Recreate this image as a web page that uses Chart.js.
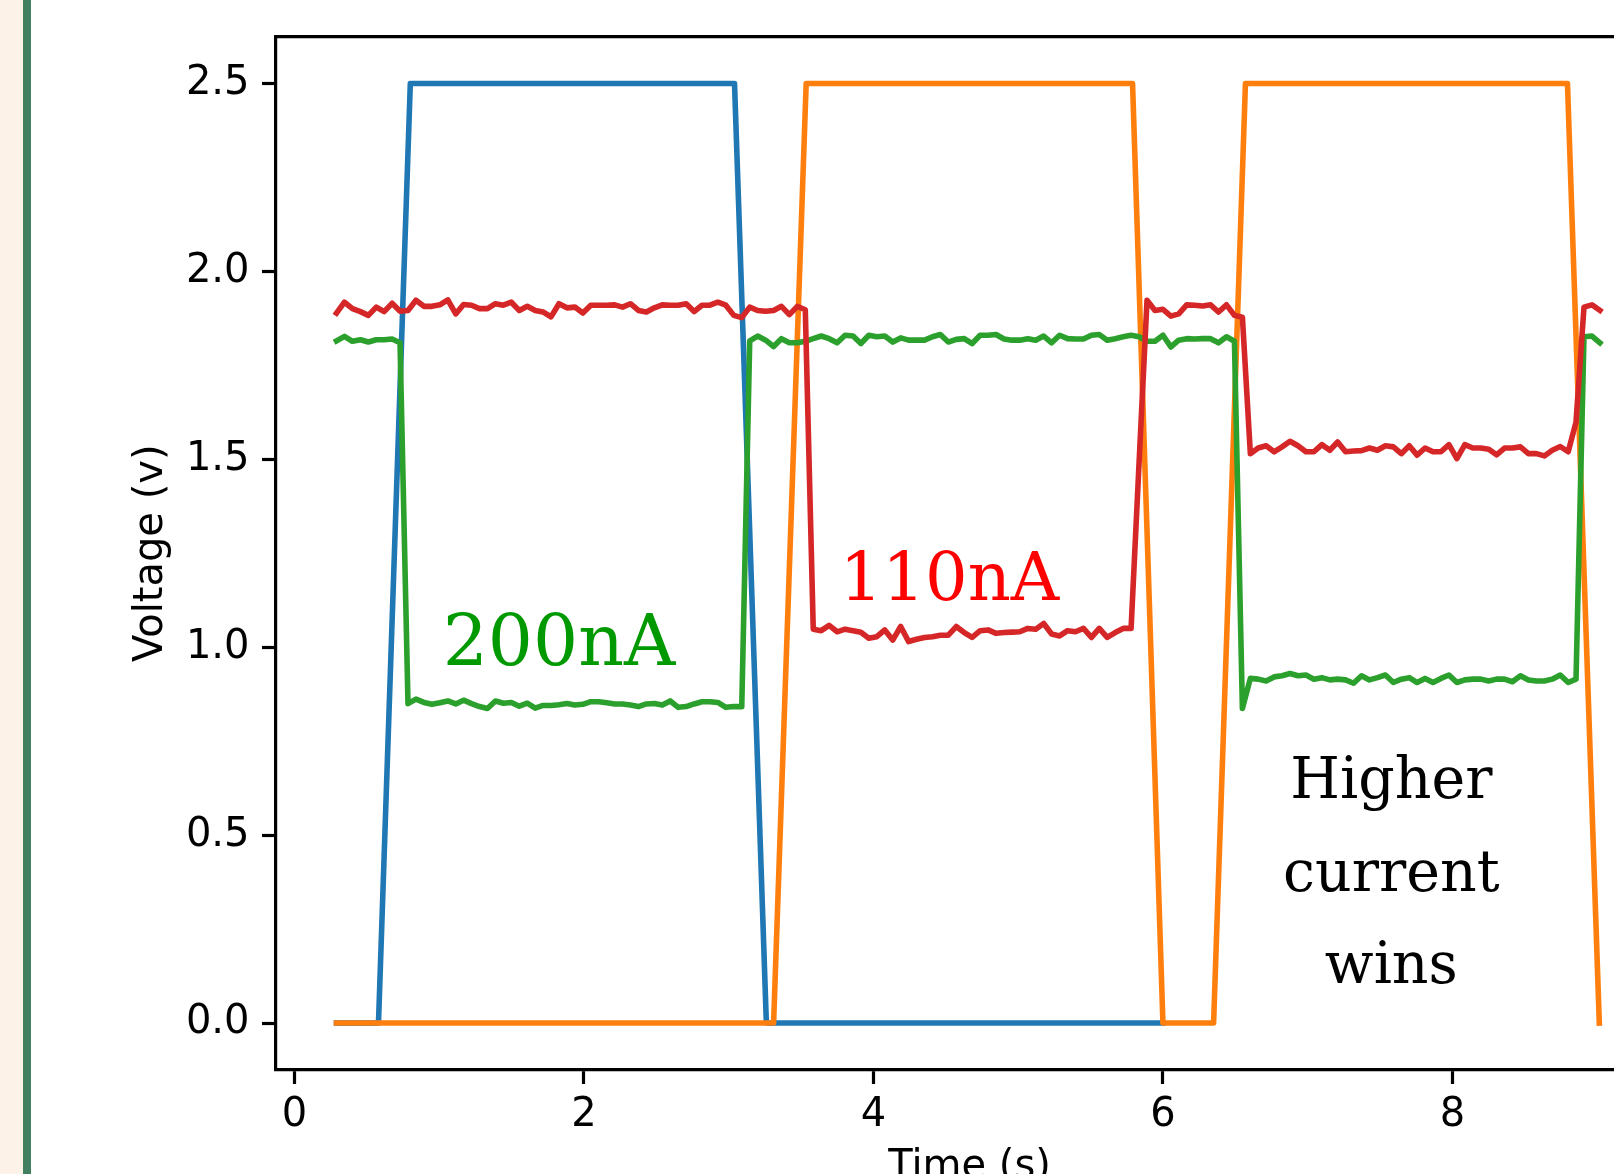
<!DOCTYPE html>
<html>
<head>
<meta charset="utf-8">
<title>Voltage vs time</title>
<script src="https://cdn.jsdelivr.net/npm/chart.js@4.4.1/dist/chart.umd.min.js"></script>
<style>
  html, body { margin: 0; padding: 0; background: #fff; overflow: hidden; }
  #page { position: relative; width: 1614px; height: 1174px; overflow: hidden; background: #fff; }
  #sidePanel { position: absolute; left: 0; top: 0; width: 23px; height: 100%; background: #fdf2e7; }
  #sideBar { position: absolute; left: 23px; top: 0; width: 8px; height: 100%; background: #417f63; }
  #chartWrap { position: absolute; left: 0; top: 0; width: 1670px; height: 1200px; }
</style>
</head>
<body>
<div id="page">
  <div id="sidePanel"></div>
  <div id="sideBar"></div>
  <div id="chartWrap"><canvas id="voltChart" width="1670" height="1200"></canvas></div>
</div>
<script>
/* =============================
   DATA
============================= */
// sample times of the two outputs (s)
const timeS = [
  0.290, 0.345, 0.400, 0.455, 0.510, 0.565, 0.619, 0.674, 0.729, 0.784,
  0.839, 0.894, 0.949, 1.004, 1.059, 1.114, 1.168, 1.223, 1.278, 1.333,
  1.388, 1.443, 1.498, 1.553, 1.608, 1.663, 1.717, 1.772, 1.827, 1.882,
  1.937, 1.992, 2.047, 2.102, 2.157, 2.212, 2.266, 2.321, 2.376, 2.431,
  2.486, 2.541, 2.596, 2.651, 2.706, 2.761, 2.815, 2.870, 2.925, 2.980,
  3.035, 3.090, 3.145, 3.200, 3.255, 3.310, 3.364, 3.419, 3.474, 3.529,
  3.584, 3.639, 3.694, 3.749, 3.804, 3.859, 3.913, 3.968, 4.023, 4.078,
  4.133, 4.188, 4.243, 4.298, 4.353, 4.408, 4.462, 4.517, 4.572, 4.627,
  4.682, 4.737, 4.792, 4.847, 4.902, 4.957, 5.011, 5.066, 5.121, 5.176,
  5.231, 5.286, 5.341, 5.396, 5.451, 5.506, 5.560, 5.615, 5.670, 5.725,
  5.780, 5.835, 5.890, 5.945, 6.000, 6.055, 6.109, 6.164, 6.219, 6.274,
  6.329, 6.384, 6.439, 6.494, 6.549, 6.604, 6.658, 6.713, 6.768, 6.823,
  6.878, 6.933, 6.988, 7.043, 7.098, 7.153, 7.207, 7.262, 7.317, 7.372,
  7.427, 7.482, 7.537, 7.592, 7.647, 7.702, 7.756, 7.811, 7.866, 7.921,
  7.976, 8.031, 8.086, 8.141, 8.196, 8.251, 8.305, 8.360, 8.415, 8.470,
  8.525, 8.580, 8.635, 8.690, 8.745, 8.800, 8.854, 8.909, 8.964, 9.019
];

// red output (110nA side)
const outRed = [
  1.889, 1.918, 1.901, 1.893, 1.883, 1.905, 1.893, 1.915, 1.894, 1.896,
  1.923, 1.907, 1.907, 1.911, 1.924, 1.887, 1.912, 1.910, 1.901, 1.901,
  1.914, 1.910, 1.918, 1.896, 1.907, 1.896, 1.892, 1.879, 1.914, 1.903,
  1.905, 1.889, 1.910, 1.910, 1.910, 1.911, 1.905, 1.914, 1.896, 1.892,
  1.903, 1.911, 1.910, 1.910, 1.914, 1.893, 1.910, 1.910, 1.918, 1.910,
  1.883, 1.877, 1.905, 1.896, 1.894, 1.896, 1.907, 1.885, 1.907, 1.898,
  1.048, 1.044, 1.058, 1.041, 1.048, 1.044, 1.040, 1.024, 1.028, 1.046,
  1.019, 1.055, 1.015, 1.021, 1.026, 1.028, 1.032, 1.032, 1.055, 1.039,
  1.026, 1.044, 1.046, 1.037, 1.039, 1.040, 1.041, 1.050, 1.048, 1.063,
  1.035, 1.030, 1.044, 1.041, 1.050, 1.026, 1.050, 1.026, 1.039, 1.050,
  1.050, 1.490, 1.923, 1.896, 1.899, 1.881, 1.887, 1.911, 1.910, 1.908,
  1.911, 1.892, 1.911, 1.883, 1.878, 1.515, 1.530, 1.536, 1.520, 1.533,
  1.548, 1.536, 1.520, 1.520, 1.539, 1.524, 1.546, 1.520, 1.522, 1.523,
  1.530, 1.524, 1.536, 1.533, 1.515, 1.536, 1.511, 1.530, 1.520, 1.520,
  1.539, 1.502, 1.539, 1.530, 1.530, 1.527, 1.512, 1.530, 1.530, 1.533,
  1.515, 1.515, 1.509, 1.524, 1.534, 1.520, 1.599, 1.905, 1.911, 1.896
];

// green output (200nA side)
const outGreen = [
  1.815, 1.827, 1.814, 1.818, 1.812, 1.818, 1.818, 1.820, 1.810, 0.850,
  0.862, 0.853, 0.848, 0.852, 0.857, 0.849, 0.859, 0.850, 0.842, 0.837,
  0.857, 0.851, 0.853, 0.843, 0.851, 0.838, 0.845, 0.845, 0.847, 0.850,
  0.846, 0.848, 0.855, 0.855, 0.852, 0.849, 0.849, 0.846, 0.842, 0.849,
  0.850, 0.846, 0.857, 0.840, 0.842, 0.849, 0.855, 0.855, 0.853, 0.840,
  0.842, 0.842, 1.815, 1.828, 1.817, 1.800, 1.821, 1.810, 1.810, 1.814,
  1.821, 1.828, 1.821, 1.810, 1.830, 1.828, 1.808, 1.830, 1.826, 1.828,
  1.812, 1.823, 1.817, 1.817, 1.817, 1.826, 1.832, 1.812, 1.819, 1.821,
  1.808, 1.830, 1.830, 1.832, 1.820, 1.817, 1.817, 1.821, 1.817, 1.828,
  1.810, 1.830, 1.821, 1.820, 1.820, 1.830, 1.832, 1.817, 1.821, 1.826,
  1.830, 1.826, 1.814, 1.814, 1.830, 1.799, 1.817, 1.821, 1.820, 1.821,
  1.821, 1.810, 1.826, 1.814, 0.837, 0.917, 0.915, 0.910, 0.921, 0.924,
  0.930, 0.924, 0.926, 0.915, 0.919, 0.913, 0.915, 0.913, 0.904, 0.924,
  0.913, 0.919, 0.926, 0.906, 0.915, 0.919, 0.906, 0.917, 0.906, 0.917,
  0.926, 0.906, 0.913, 0.915, 0.915, 0.910, 0.915, 0.915, 0.908, 0.924,
  0.913, 0.910, 0.910, 0.915, 0.926, 0.906, 0.915, 1.826, 1.828, 1.810
];

// blue input, corner points
const inBlueT = [0.29, 0.58, 0.80, 3.04, 3.26, 6.00];
const inBlueV = [0, 0, 2.5, 2.5, 0, 0];

// orange input, corner points
const inOrangeT = [0.29, 3.31, 3.535, 5.79, 6.00, 6.35, 6.57, 8.795, 9.015];
const inOrangeV = [0, 0, 2.5, 2.5, 0, 0, 2.5, 2.5, 0];

// axis ticks and limits
const xTicks = [0, 2, 4, 6, 8];
const yTicks = [0, 0.5, 1.0, 1.5, 2.0, 2.5];
const xLimits = [-0.128, 9.455];
const yLimits = [-0.125, 2.625];

// text notes: words and their anchor (time, voltage of baseline)
const noteText = ["200nA", "110nA", "Higher", "current", "wins"];
const noteX = [1.827, 4.525, 7.578, 7.578, 7.578];
const noteY = [0.952, 1.125, 0.600, 0.351, 0.107];

/* =============================
   NOTE STYLES + PLUGIN
============================= */
const noteColor = ["#009900", "#ff0000", "#000000", "#000000", "#000000"];
const noteSize = [71, 67, 57, 57, 57];

const notesPlugin = {
  id: "notes",
  afterDatasetsDraw(chart) {
    const ctx = chart.ctx;
    const xs = chart.scales.x;
    const ys = chart.scales.y;
    ctx.save();
    ctx.textAlign = "center";
    ctx.textBaseline = "alphabetic";
    noteText.forEach((txt, i) => {
      ctx.font = noteSize[i] + "px 'DejaVu Serif'";
      ctx.fillStyle = noteColor[i];
      ctx.fillText(txt, xs.getPixelForValue(noteX[i]), ys.getPixelForValue(noteY[i]));
    });
    ctx.restore();
  }
};

/* =============================
   CHART
============================= */
const toPoints = (ts, vs) => ts.map((t, i) => ({ x: t, y: vs[i] }));
const tickFont = { family: "DejaVu Sans", size: 40 };
const axisGrid = {
  display: true,
  drawOnChartArea: false,
  drawTicks: true,
  tickLength: 14,
  tickWidth: 3.2,
  tickColor: "#000"
};
const axisBorder = { display: true, color: "#000", width: 3.2 };

new Chart(document.getElementById("voltChart"), {
  type: "line",
  data: {
    // first dataset is drawn on top
    datasets: [
      { label: "red", data: toPoints(timeS, outRed), borderColor: "#d62728" },
      { label: "green", data: toPoints(timeS, outGreen), borderColor: "#2ca02c" },
      { label: "orange", data: toPoints(inOrangeT, inOrangeV), borderColor: "#ff7f0e" },
      { label: "blue", data: toPoints(inBlueT, inBlueV), borderColor: "#1f77b4" }
    ]
  },
  options: {
    responsive: false,
    devicePixelRatio: 1,
    animation: false,
    events: [],
    layout: { padding: { top: 35, right: 7, bottom: 0, left: 0 } },
    elements: {
      line: { borderWidth: 5.6, tension: 0, fill: false, borderCapStyle: "square", borderJoinStyle: "round" },
      point: { radius: 0 }
    },
    plugins: { legend: { display: false }, tooltip: { enabled: false } },
    scales: {
      x: {
        type: "linear",
        position: "bottom",
        min: xLimits[0],
        max: xLimits[1],
        afterBuildTicks: s => { s.ticks = xTicks.map(v => ({ value: v })); },
        afterFit: s => { s.height = 130; },
        grid: axisGrid,
        border: axisBorder,
        ticks: { color: "#000", font: tickFont, padding: 8, maxRotation: 0, callback: v => String(v) },
        title: { display: true, text: "Time (s)", color: "#000", font: tickFont, padding: { top: 0, bottom: 8 } }
      },
      xTop: {
        type: "linear",
        axis: "x",
        position: "top",
        display: true,
        min: xLimits[0],
        max: xLimits[1],
        afterFit: s => { s.height = 0; },
        grid: { display: false },
        border: axisBorder,
        ticks: { display: false }
      },
      y: {
        type: "linear",
        position: "left",
        min: yLimits[0],
        max: yLimits[1],
        afterBuildTicks: s => { s.ticks = yTicks.map(v => ({ value: v })); },
        afterFit: s => { s.width = 276; },
        grid: axisGrid,
        border: axisBorder,
        ticks: { color: "#000", font: tickFont, padding: 12.5, callback: v => v.toFixed(1) },
        title: { display: true, text: "Voltage (v)", color: "#000", font: tickFont, padding: { top: 128, bottom: 0 } }
      }
    }
  },
  plugins: [notesPlugin]
});
</script>
</body>
</html>
